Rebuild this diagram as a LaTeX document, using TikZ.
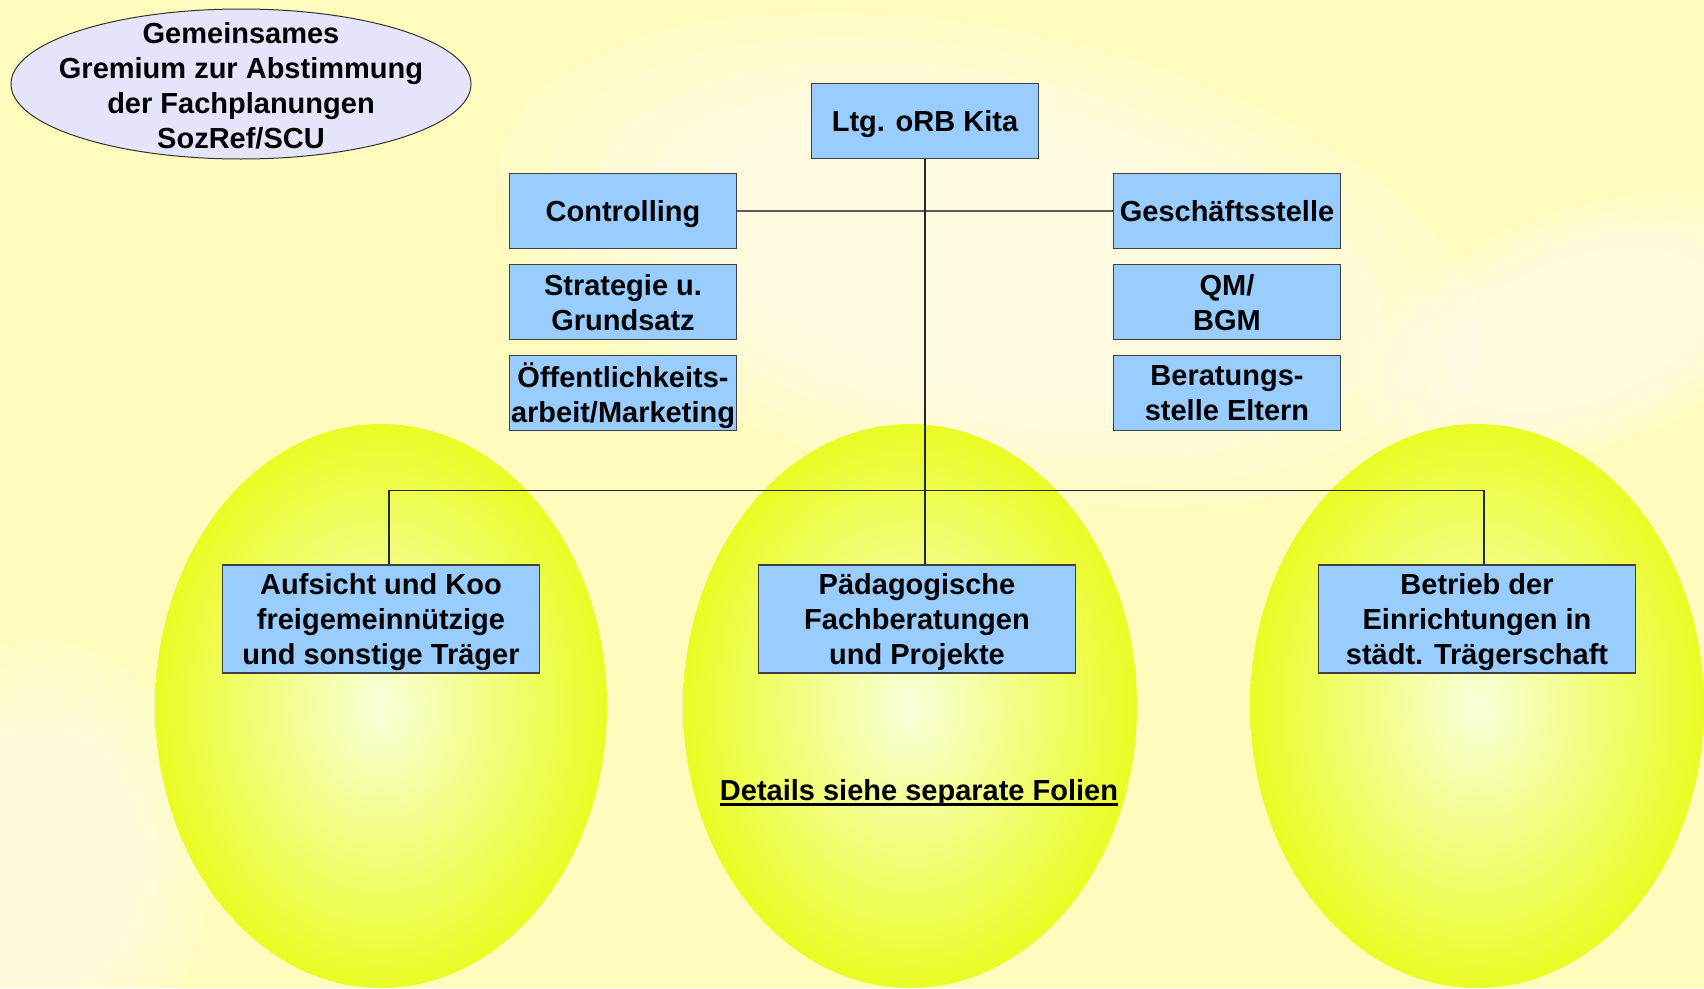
\documentclass[tikz,border=0pt]{standalone}
\usepackage{fontspec}
\setmainfont{Liberation Sans}
\usetikzlibrary{shapes.geometric}

\definecolor{bgyellow}{RGB}{255,251,188}
\definecolor{boxblue}{RGB}{153,204,255}
\definecolor{lavender}{RGB}{228,228,250}
\definecolor{ovalyellow}{RGB}{234,252,36}
\definecolor{ovallight}{RGB}{250,255,218}

\newcommand{\ulthick}[1]{\setbox0\hbox{#1}\rlap{\rule[-5pt]{\wd0}{2.4pt}}\box0}

\tikzset{
  orgbox/.style={draw=black!75, line width=1.3pt, fill=boxblue, inner sep=0pt,
    align=center, text depth=-6pt, font=\fontsize{29}{35}\selectfont\bfseries},
  staffbox/.style={orgbox, minimum width=227pt, minimum height=75pt},
  unitbox/.style={orgbox, minimum width=317pt, minimum height=108pt},
  oval/.style={inner color=ovallight, outer color=ovalyellow},
  link/.style={draw=black!85, line width=1.1pt}
}

\begin{document}
\begin{tikzpicture}[x=1pt, y=-1pt]
    \useasboundingbox (0,0) rectangle (1704,988);
    \fill[bgyellow] (0,0) rectangle (1704,988);
    \foreach \s in {1.0,0.9,0.8,0.7,0.6} {
      \fill[white, opacity=0.16, rotate around={-12:(990,260)}] (990,260) ellipse [x radius=\s*500pt, y radius=\s*230pt];
      \fill[white, opacity=0.14, rotate around={20:(1580,330)}] (1580,330) ellipse [x radius=\s*230pt, y radius=\s*120pt];
      \fill[white, opacity=0.12] (40,860) ellipse [x radius=\s*170pt, y radius=\s*220pt];
    }

    \shade[oval] (381,706) ellipse [x radius=226pt, y radius=282pt];
    \shade[oval] (910,706) ellipse [x radius=227pt, y radius=282pt];
    \shade[oval] (1477,706) ellipse [x radius=227pt, y radius=282pt];

    \draw[fill=lavender, draw=black!80, line width=1pt] (241,84) ellipse [x radius=230pt, y radius=75pt];
    \node[align=center, inner sep=0pt, font=\fontsize{29}{35}\selectfont\bfseries] (gremium) at (241,86)
      {Gemeinsames\\Gremium zur Abstimmung\\der Fachplanungen\\SozRef/SCU};

    \node[staffbox] (ltg) at (925,121) {Ltg. oRB Kita};
    \node[staffbox] (ctrl) at (623,211) {Controlling};
    \node[staffbox] (strat) at (623,302) {Strategie u.\\Grundsatz};
    \node[staffbox] (oeff) at (623,393) {Öffentlichkeits-\\arbeit/Marketing};
    \node[staffbox] (gesch) at (1227,211) {Geschäftsstelle};
    \node[staffbox] (qm) at (1227,302) {QM/\\BGM};
    \node[staffbox] (berat) at (1227,393) {Beratungs-\\stelle Eltern};

    \node[unitbox] (auf) at (381,619) {Aufsicht und Koo\\freigemeinnützige\\und sonstige Träger};
    \node[unitbox] (paed) at (917,619) {Pädagogische\\Fachberatungen\\und Projekte};
    \node[unitbox] (betr) at (1477,619) {Betrieb der\\Einrichtungen in\\städt. Trägerschaft};

    \node[inner sep=0pt, font=\fontsize{29}{35}\selectfont\bfseries] (details) at (919,793)
      {\ulthick{Details siehe separate Folien}};

    \draw[link, draw=black!65] (ctrl.east) -- (gesch.west);
    \draw[link] (ltg.south) -- (ltg.south |- paed.north);
    \draw[link] ([xshift=8pt]auf.north) -- ++(0,-74) -| ([xshift=7pt]betr.north);
\end{tikzpicture}
\end{document}
